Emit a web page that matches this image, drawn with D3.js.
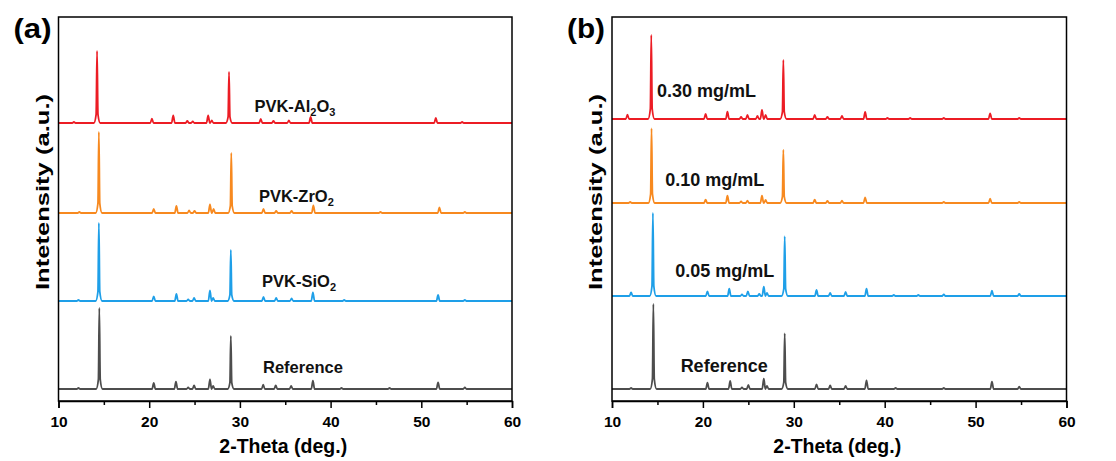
<!DOCTYPE html>
<html>
<head>
<meta charset="utf-8">
<script src="https://cdn.jsdelivr.net/npm/d3@7"></script>
<style>
  body { margin: 0; background: #fff; }
  svg { display: block; font-family: "Liberation Sans", Arial, sans-serif; font-weight: bold; }
</style>
</head>
<body>
<svg id="chart" width="1116" height="461"></svg>
<script>
// x axis ticks (2-Theta, deg.)
const xTicks = [10, 20, 30, 40, 50, 60];
const xMinor = [15, 25, 35, 45, 55];

// peaks: [2-theta, intensity (a.u.)]
// panel (a)
const refA = [[12.2,1],[14.5,81],[20.5,6],[22.95,7.3],[24.3,1.5],[24.95,3.7],[26.7,9.7],[27.05,3],[29.0,53],[32.57,4.3],[33.95,3.7],[35.65,3],[38.05,8.3],[41.2,1],[46.5,1],[51.85,6.7],[54.8,1.5]];
const sio2A = [[12.2,1],[14.45,78],[20.5,4.7],[23.0,7],[24.3,1.5],[24.95,3],[26.7,10.7],[27.05,3],[29.0,51],[32.6,4],[34.0,3],[35.7,2.5],[38.05,8.7],[41.5,1],[51.85,6],[54.8,1]];
const zro2A = [[12.3,1],[14.45,81],[20.5,4],[23.0,7],[24.4,2.5],[25.0,2],[26.7,8.7],[27.1,4],[29.05,60],[32.6,4],[34.0,2],[35.7,2],[38.1,7.7],[45.5,1],[52.0,5.7],[54.8,1]];
const al2o3A = [[11.7,1],[14.25,72],[20.3,4.3],[22.65,7.7],[24.2,2],[24.8,1.5],[26.5,7.7],[26.9,2.5],[28.8,51],[32.3,4],[33.7,2],[35.4,2.5],[37.8,6],[51.6,5],[54.5,1]];

// panel (b)
const refB = [[12.1,1],[14.55,85],[20.5,6.3],[23.0,8],[24.3,1.5],[25.0,4],[26.7,10.3],[27.05,3],[29.0,55.7],[32.5,4.7],[34.0,3.7],[35.7,3],[38.0,8.7],[41.2,1],[46.5,1],[51.8,7.3],[54.8,2.3]];
const c005B = [[12.1,3.7],[14.5,83],[20.5,4.7],[22.9,7.3],[24.3,1.5],[24.95,4.7],[26.2,2],[26.7,9.3],[27.05,3],[29.0,59.7],[32.5,6],[34.0,3],[35.7,4],[38.0,7.3],[41.0,1],[43.7,1],[46.5,1.7],[51.8,5.3],[54.8,2]];
const c010B = [[12.0,1],[14.35,74.7],[20.3,3.3],[22.7,7.3],[24.2,1.5],[24.9,2.3],[26.5,7.3],[26.9,3],[28.85,53.3],[32.3,3.3],[33.7,2],[35.3,2.3],[37.85,5.7],[46.5,1],[51.6,4.3],[54.8,1]];
const c030B = [[11.7,4.3],[14.32,84],[20.3,5],[22.7,7.3],[24.2,2],[24.9,4],[26.0,3],[26.5,9],[26.9,4],[28.85,59],[32.3,4],[33.7,2],[35.3,3],[37.85,7],[40.3,1],[42.8,1],[46.5,1],[51.6,5.7],[54.8,1]];

// vertical offsets of the stacked traces (a.u.)
const offsetsA = [12, 100, 188, 278];
const offsetsB = [12, 105, 198, 282];

const namesA = ["Reference", "PVK-SiO2", "PVK-ZrO2", "PVK-Al2O3"];
const namesB = ["Reference", "0.05 mg/mL", "0.10 mg/mL", "0.30 mg/mL"];

const colors = ["#4d4d4d", "#1e9fe8", "#f7891f", "#ec1c24"];

const svg = d3.select("#chart");

// turn a peak list into a polyline between 10 and 60 deg
function trace(peaks) {
  const pts = [[10, 0], [60, 0]];
  peaks.forEach(function(p) {
    const pos = p[0], h = p[1];
    if (h > 30) {
      pts.push([pos - 0.35, 0], [pos - 0.1, h * 0.12], [pos, h], [pos + 0.1, h * 0.12], [pos + 0.35, 0]);
    } else {
      pts.push([pos - 0.18, 0], [pos, h], [pos + 0.18, 0]);
    }
  });
  pts.sort((a, b) => a[0] - b[0]);
  return pts;
}

function panel(cfg) {
  const g = svg.append("g");
  const top = 17, bottom = 401;

  const x = d3.scaleLinear().domain([10, 60]).range([cfg.left, cfg.right]);
  const y = d3.scaleLinear().domain([0, 384]).range([bottom, top]);

  const line = d3.line()
    .curve(d3.curveMonotoneX)
    .x(d => x(d[0]))
    .y(d => y(d[1]));

  cfg.series.forEach(function(s, i) {
    const off = cfg.offsets[i];
    g.append("path")
      .datum(trace(s))
      .attr("fill", "none")
      .attr("stroke", colors[i])
      .attr("stroke-width", 1.8)
      .attr("stroke-linejoin", "round")
      .attr("d", line.y(d => y(d[1] + off)));
  });

  // labels
  cfg.labels.forEach(function(l, i) {
    const t = g.append("text")
      .attr("x", x(l.x))
      .attr("y", y(cfg.offsets[i] + l.dy))
      .attr("font-size", cfg.labelSize)
      .attr("fill", "#111");
    const m = l.text.match(/^PVK-(Al|Zr|Si)/);
    if (m) {
      if (m[1] === "Al") {
        t.append("tspan").text("PVK-Al");
        t.append("tspan").attr("font-size", 11).attr("dy", 4).text("2");
        t.append("tspan").attr("dy", -4).text("O");
        t.append("tspan").attr("font-size", 11).attr("dy", 4).text("3");
      } else {
        t.append("tspan").text("PVK-" + m[1] + "O");
        t.append("tspan").attr("font-size", 11).attr("dy", 4).text("2");
      }
    } else {
      t.text(l.text);
    }
  });

  // frame
  g.append("rect")
    .attr("x", cfg.left).attr("y", top)
    .attr("width", cfg.right - cfg.left).attr("height", bottom - top)
    .attr("fill", "none").attr("stroke", "#000").attr("stroke-width", 1.5);

  // x axis
  const ax = g.append("g")
    .attr("transform", `translate(0,${bottom})`)
    .call(d3.axisBottom(x).tickValues(xTicks).tickSize(7).tickPadding(8).tickFormat(d3.format("d")));
  ax.select(".domain").attr("stroke-width", 1.5);
  ax.selectAll(".tick line").attr("stroke-width", 1.5);
  ax.selectAll(".tick text")
    .attr("font-size", 15.5).attr("font-family", "Liberation Sans, Arial, sans-serif")
    .attr("font-weight", "bold").attr("fill", "#000");

  const axm = g.append("g")
    .attr("transform", `translate(0,${bottom})`)
    .call(d3.axisBottom(x).tickValues(xMinor).tickSize(4).tickFormat(""));
  axm.select(".domain").remove();
  axm.selectAll(".tick line").attr("stroke-width", 1.5);

  // axis titles
  g.append("text")
    .attr("x", (cfg.left + cfg.right) / 2 - 2)
    .attr("y", 453)
    .attr("text-anchor", "middle")
    .attr("font-size", 19.5)
    .text("2-Theta (deg.)");

  g.append("text")
    .attr("transform", `translate(${cfg.left - 10},192) rotate(-90)`)
    .attr("text-anchor", "middle")
    .attr("font-size", 19)
    .attr("textLength", 196)
    .attr("lengthAdjust", "spacingAndGlyphs")
    .text("Intetensity (a.u.)");

  // panel tag
  g.append("text")
    .attr("x", cfg.left - 45)
    .attr("y", 38)
    .attr("font-size", 27)
    .attr("textLength", 38)
    .attr("lengthAdjust", "spacingAndGlyphs")
    .text(cfg.tag);
}

panel({
  left: 58.5, right: 512, tag: "(a)",
  series: [refA, sio2A, zro2A, al2o3A],
  offsets: offsetsA,
  labelSize: 16.5,
  labels: [
    {text: namesA[0], x: 32.55, dy: 16},
    {text: namesA[1], x: 32.45, dy: 14},
    {text: namesA[2], x: 32.1, dy: 11},
    {text: namesA[3], x: 31.6, dy: 11.5}
  ]
});

panel({
  left: 612, right: 1066.5, tag: "(b)",
  series: [refB, c005B, c010B, c030B],
  offsets: offsetsB,
  labelSize: 18,
  labels: [
    {text: namesB[0], x: 17.55, dy: 16.7},
    {text: namesB[1], x: 16.95, dy: 18.6},
    {text: namesB[2], x: 15.85, dy: 17.3},
    {text: namesB[3], x: 14.95, dy: 21.6}
  ]
});
</script>
</body>
</html>
